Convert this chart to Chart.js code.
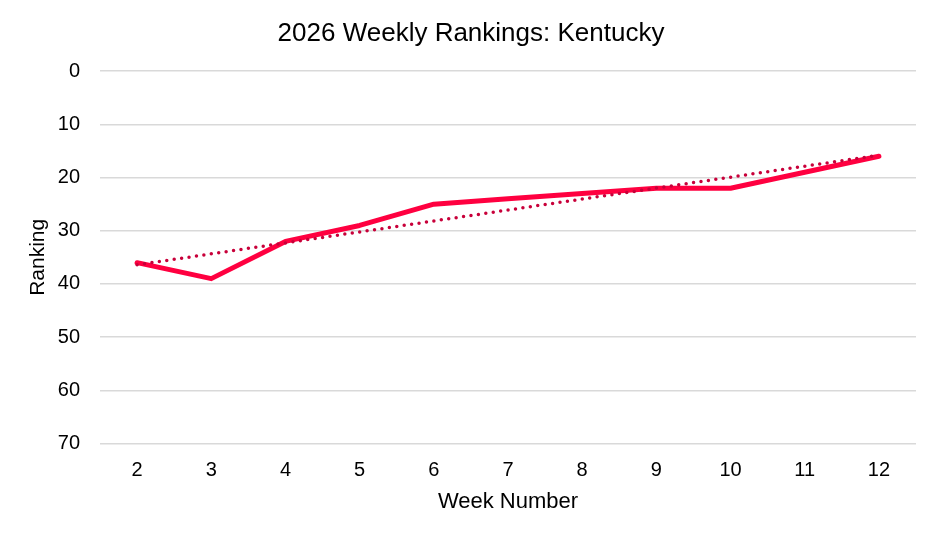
<!DOCTYPE html>
<html>
<head>
<meta charset="utf-8">
<script src="https://cdn.jsdelivr.net/npm/chart.js@4"></script>
<style>
html,body{margin:0;padding:0;background:#fff;}
#wrap{width:938px;height:538px;}
</style>
</head>
<body>
<div id="wrap"><canvas id="c" width="938" height="538"></canvas></div>
<script>
const weeks = ['2','3','4','5','6','7','8','9','10','11','12'];
const rankings = [36, 39, 32, 29, 25, 24, 23, 22, 22, 19, 16];
const trendline = [36.4, null, null, null, null, null, null, null, null, null, 15.8];
const yTicks = [0, 10, 20, 30, 40, 50, 60, 70];

const FONT = '"Liberation Sans", Arial, sans-serif';

new Chart(document.getElementById('c'), {
  type: 'line',
  data: {
    labels: weeks,
    datasets: [
      {
        label: 'Linear trend',
        data: trendline,
        spanGaps: true,
        borderColor: '#C8003A',
        borderWidth: 3.5,
        borderDash: [0, 7.5],
        borderCapStyle: 'round',
        pointRadius: 0,
        fill: false,
        tension: 0,
        order: 0
      },
      {
        label: 'Ranking',
        data: rankings,
        borderColor: '#FF0040',
        borderWidth: 5,
        borderCapStyle: 'round',
        borderJoinStyle: 'round',
        pointRadius: 0,
        fill: false,
        tension: 0,
        order: 1
      }
    ]
  },
  options: {
    responsive: false,
    animation: false,
    devicePixelRatio: 1,
    layout: { padding: { left: 26, right: 22, top: 10, bottom: 23 } },
    plugins: {
      legend: { display: false },
      tooltip: { enabled: false },
      title: {
        display: true,
        text: '2026 Weekly Rankings: Kentucky',
        color: '#000',
        font: { family: FONT, size: 26, weight: 'normal' },
        padding: { top: 8, bottom: 22 }
      }
    },
    scales: {
      x: {
        offset: true,
        grid: { display: false, drawTicks: false },
        border: { display: false },
        ticks: { color: '#000', font: { family: FONT, size: 20 }, padding: 15 },
        title: {
          display: true, text: 'Week Number', color: '#000',
          font: { family: FONT, size: 22 }, padding: { top: 0, bottom: 0 }
        },
        afterFit: (scale) => { scale.height = 71.5; }
      },
      y: {
        reverse: true,
        min: 0,
        max: 70,
        afterBuildTicks: (axis) => { axis.ticks = yTicks.map(v => ({ value: v })); },
        grid: { color: '#D9D9D9', lineWidth: 1.5, drawTicks: false },
        border: { display: false },
        ticks: { color: '#000', font: { family: FONT, size: 20 }, padding: 20 },
        title: {
          display: true, text: 'Ranking', color: '#000',
          font: { family: FONT, size: 21 }, padding: { top: 0, bottom: 0 }
        },
        afterFit: (scale) => { scale.width = 74; }
      }
    }
  }
});
</script>
</body>
</html>
